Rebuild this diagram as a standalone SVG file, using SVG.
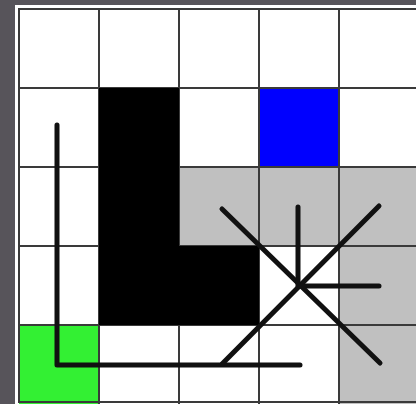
<svg xmlns="http://www.w3.org/2000/svg" width="416" height="404" viewBox="0 0 416 404">
<style>
.cell{stroke:none}
.grid{stroke:#3a3a3a;stroke-width:2;fill:none}
.path{stroke:#111;stroke-width:5;fill:none;stroke-linecap:round;stroke-linejoin:round}
</style>
<rect x="0" y="0" width="416" height="404" fill="#57545a"/>
<rect x="15" y="5" width="410" height="410" fill="#ffffff"/>
<g id="cells">
<rect class="cell" x="259" y="88" width="80" height="79" fill="#0000ff"/>
<rect class="cell" x="179" y="167" width="240" height="79" fill="#c0c0c0"/>
<rect class="cell" x="339" y="246" width="80" height="160" fill="#c0c0c0"/>
<rect class="cell" x="19" y="325" width="80" height="80" fill="#33f033"/>
</g>
<g id="grid">
<rect class="grid" x="19" y="9" width="400" height="393"/>
<path class="grid" d="M99 9V404M179 9V404M259 9V404M339 9V404M19 88H419M19 167H419M19 246H419M19 325H419"/>
</g>
<g id="wall">
<path d="M99 88H179V246H259V325H99Z" fill="#000"/>
</g>
<g id="connectors">
<path class="path" d="M57 125V365H300"/>
<path class="path" d="M222 209L380 363"/>
<path class="path" d="M379 206L222 364"/>
<path class="path" d="M298 207V286H379"/>
</g>
</svg>
